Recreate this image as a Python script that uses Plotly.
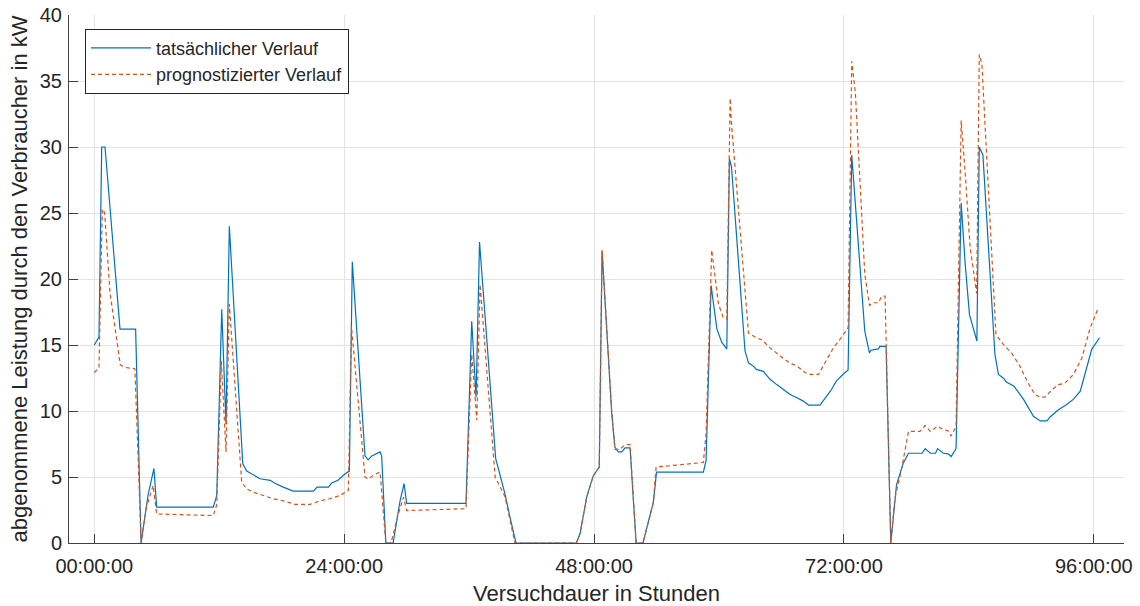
import plotly.graph_objects as go

# Versuchsdauer in Stunden und abgenommene Leistung in kW
t_ist = [0, 0.45, 0.71, 1.03, 2.47, 3.97, 4.49, 5.19, 5.73, 5.99, 11.43, 11.76, 12.24, 12.65, 12.97,
         14.26, 14.64, 15.1, 15.92, 16.9, 17.3, 18.15, 19.1, 21.04, 21.4, 22.5, 22.8, 23.4, 24.1, 24.5,
         24.78, 26.0, 26.3, 26.65, 27.1, 27.45, 27.6, 28.0, 28.7, 29.37, 29.75, 30.0, 35.7, 36.25, 36.67,
         37.0, 38.55, 39.45, 39.93, 40.5, 46.3, 46.65, 47.3, 47.93, 48.5, 48.77, 49.7, 50.0, 50.33, 50.65,
         50.98, 51.46, 52.04, 52.7, 53.7, 54.0, 58.5, 58.76, 59.24, 59.8, 60.27, 60.75, 61.0, 61.2, 62.5,
         62.83, 63.3, 63.6, 64.26, 64.9, 65.55, 66.2, 66.83, 67.5, 68.1, 68.6, 69.7, 70.7, 71.3, 71.95,
         72.4, 72.75, 74.0, 74.45, 74.6, 75.3, 75.45, 76.05, 76.5, 77.05, 77.7, 78.2, 79.5, 79.8, 80.3,
         80.8, 81.0, 81.55, 82.0, 82.3, 82.77, 83.26, 83.65, 84.06, 84.77, 85.0, 85.35, 86.5, 86.84, 87.3,
         87.6, 88.3, 89.24, 90.2, 90.85, 91.5, 91.8, 92.6, 93.4, 94.05, 94.7, 95.8, 96.55]
p_ist = [15.0, 15.6, 30.0, 30.0, 16.2, 16.2, 0, 3.75, 5.65, 2.72, 2.72, 3.6, 17.7, 9.0, 24.0,
         6.0, 5.45, 5.25, 4.87, 4.75, 4.55, 4.23, 3.93, 3.93, 4.23, 4.23, 4.55, 4.75, 5.25, 5.45,
         21.3, 6.6, 6.3, 6.6, 6.75, 6.9, 6.6, 0, 0, 3.2, 4.5, 3.0, 3.0, 16.8, 11.05,
         22.8, 6.4, 3.7, 1.95, 0, 0, 0.7, 3.5, 5.1, 5.75, 22.1, 9.8, 7.27, 6.9, 6.9,
         7.2, 7.2, 0, 0, 3.1, 5.37, 5.37, 6.25, 19.5, 16.2, 15.2, 14.7, 29.1, 28.5, 14.55,
         13.65, 13.4, 13.15, 13.0, 12.4, 12.0, 11.6, 11.25, 11.0, 10.75, 10.45, 10.45, 11.5, 12.3, 12.8,
         13.1, 29.4, 16.06, 14.4, 14.6, 14.7, 14.9, 14.9, 0, 4.4, 6.05, 6.8, 6.8, 7.15, 6.8,
         6.8, 7.15, 6.8, 6.75, 6.55, 7.15, 25.75, 21.1, 17.3, 15.3, 30.0, 29.4, 14.3, 12.77, 12.5,
         12.2, 11.9, 10.9, 9.6, 9.25, 9.25, 9.55, 10.1, 10.5, 10.9, 11.5, 14.67, 15.55]

t_prog = [0, 0.45, 0.77, 1.0, 1.5, 2.5, 3.0, 3.9, 4.5, 5.0, 5.65, 5.99, 11.43, 11.76, 12.2, 12.65,
          12.97, 14.16, 14.64, 15.27, 16.24, 17.2, 18.3, 19.3, 20.7, 21.7, 22.6, 23.6, 24.4, 24.7,
          26.0, 26.3, 26.96, 27.45, 28.0, 28.5, 29.2, 29.7, 30.0, 35.7, 36.25, 36.74, 37.05, 38.5,
          39.45, 40.4, 46.3, 46.65, 47.3, 47.93, 48.5, 48.77, 49.7, 50.0, 50.5, 50.98, 51.46, 52.04,
          52.7, 53.7, 53.96, 58.5, 58.76, 59.3, 59.95, 60.4, 60.75, 61.07, 61.2, 62.83, 63.6, 64.1,
          64.9, 65.9, 66.8, 67.5, 68.3, 68.75, 69.55, 70.35, 71.0, 71.6, 72.4, 72.75, 73.1, 74.0,
          74.45, 74.8, 75.3, 75.64, 75.95, 76.5, 76.9, 77.56, 78.2, 79.3, 79.8, 80.3, 80.8, 81.0,
          81.55, 82.0, 82.3, 82.77, 83.26, 83.65, 84.12, 84.75, 85.0, 85.25, 86.6, 87.3, 88.1, 88.9,
          89.7, 90.35, 90.85, 91.3, 91.97, 92.6, 93.2, 94.05, 94.85, 95.65, 96.45]
p_prog = [12.9, 13.3, 25.3, 25.0, 19.0, 13.5, 13.3, 13.2, 0, 2.7, 4.36, 2.2, 2.08, 2.9, 13.8, 6.9,
          18.1, 4.6, 4.1, 3.85, 3.6, 3.35, 3.17, 2.92, 2.92, 3.2, 3.35, 3.6, 3.98, 16.4,
          5.0, 4.85, 5.2, 5.37, 0, 0, 2.2, 3.47, 2.46, 2.6, 14.3, 9.3, 19.6, 5.0,
          3.5, 0, 0, 0.7, 3.5, 5.1, 5.75, 22.2, 9.9, 7.1, 7.1, 7.45, 7.45, 0,
          0, 3.1, 5.75, 6.1, 8.3, 22.2, 18.1, 17.1, 16.95, 33.7, 31.8, 15.9, 15.55, 15.4,
          14.8, 14.15, 13.65, 13.4, 12.9, 12.77, 12.77, 13.9, 14.8, 15.4, 16.3, 36.5, 34.1, 20.4,
          18.0, 18.2, 18.2, 18.7, 18.7, 0, 3.4, 5.7, 8.46, 8.46, 8.9, 8.46, 8.7, 8.85,
          8.6, 8.5, 8.1, 8.85, 32.0, 28.0, 22.4, 18.9, 37.0, 36.3, 15.8, 15.05, 14.4, 13.4,
          12.1, 11.25, 11.05, 11.05, 11.6, 12.0, 12.1, 12.77, 14.0, 16.3, 17.85]

x_ticks = [0, 24, 48, 72, 96]
x_tick_labels = ["00:00:00", "24:00:00", "48:00:00", "72:00:00", "96:00:00"]
y_ticks = [0, 5, 10, 15, 20, 25, 30, 35, 40]

TXT = "#262626"
AX = "#404040"
GRID = "#e3e3e3"
FONT = "Liberation Sans, Arial, sans-serif"

fig = go.Figure()
fig.add_trace(go.Scatter(
    x=t_ist, y=p_ist, mode="lines", name="tatsächlicher Verlauf",
    line=dict(color="#0072BD", width=1.2),
))
fig.add_trace(go.Scatter(
    x=t_prog, y=p_prog, mode="lines", name="prognostizierter Verlauf",
    line=dict(color="#D95319", width=1.2, dash="4px,3px"),
))

fig.update_layout(
    width=1140, height=606,
    margin=dict(l=69, r=16, t=15, b=63),
    paper_bgcolor="white", plot_bgcolor="white",
    font=dict(family=FONT, color=TXT),
    showlegend=True,
    legend=dict(
        x=0.0152, y=0.974, xanchor="left", yanchor="top",
        bgcolor="white", bordercolor=TXT, borderwidth=1,
        font=dict(size=18, color=TXT, family=FONT),
        itemwidth=60, tracegroupgap=0,
    ),
)
fig.update_xaxes(
    range=[-2.43, 98.9], tickmode="array", tickvals=x_ticks, ticktext=x_tick_labels,
    tickfont=dict(size=20, color=TXT), showgrid=True, gridcolor=GRID, gridwidth=1,
    showline=True, linecolor=AX, linewidth=1, ticks="inside", ticklen=9, tickcolor=AX,
    zeroline=False, mirror=False, ticklabelstandoff=5, automargin=False,
    title=dict(text="Versuchdauer in Stunden", font=dict(size=22, color=TXT), standoff=10),
)
fig.update_yaxes(
    range=[0, 40], tickmode="array", tickvals=y_ticks,
    tickfont=dict(size=20, color=TXT), showgrid=True, gridcolor=GRID, gridwidth=1,
    showline=True, linecolor=AX, linewidth=1, ticks="inside", ticklen=9, tickcolor=AX,
    zeroline=False, mirror=False, ticklabelstandoff=2, automargin=False,
    title=dict(text="abgenommene Leistung durch den Verbraucher in kW", font=dict(size=22, color=TXT), standoff=6),
)

fig.write_html("out.html")
